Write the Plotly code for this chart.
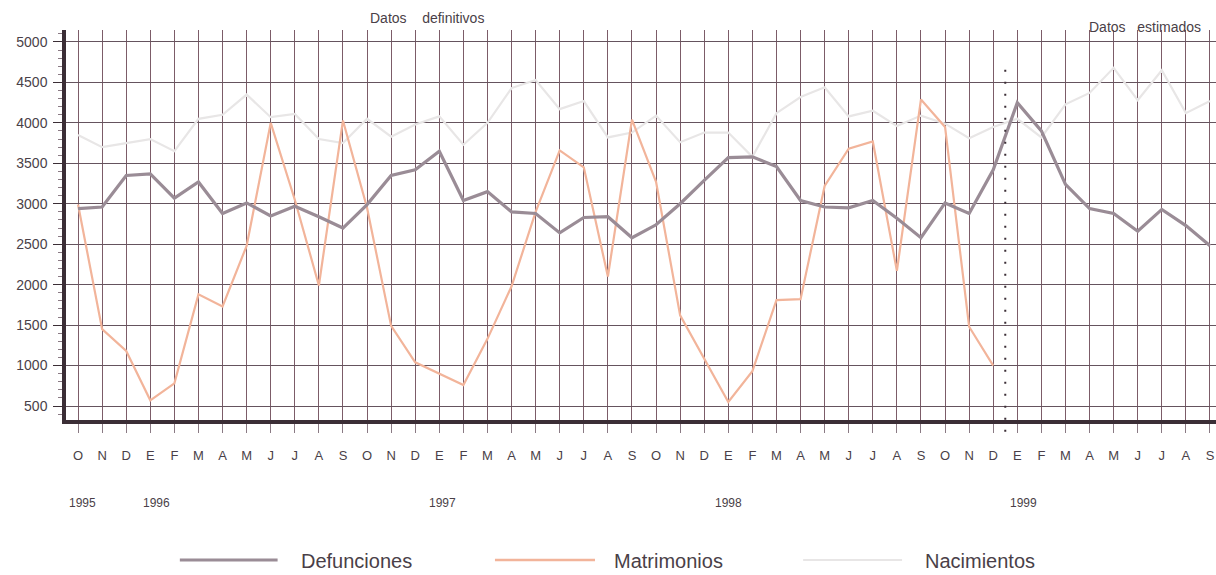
import plotly.graph_objects as go

FONT = "Liberation Sans, Arial, sans-serif"
TEXT = "#4a3f48"
AXIS = "#3b2e36"
GRID_V = "#7c5c68"
GRID_H = "#65545e"
C_DEF = "#9a8c96"
C_MAT = "#f2b49a"
C_NAC = "#e8e6e6"

months = ["O", "N", "D",
          "E", "F", "M", "A", "M", "J", "J", "A", "S", "O", "N", "D",
          "E", "F", "M", "A", "M", "J", "J", "A", "S", "O", "N", "D",
          "E", "F", "M", "A", "M", "J", "J", "A", "S", "O", "N", "D",
          "E", "F", "M", "A", "M", "J", "J", "A", "S"]
years = ["1995", "1996", "1997", "1998", "1999"]
year_pos = [0.2, 3.25, 15.15, 27.0, 39.25]

defunciones = [2940, 2960, 3350,
               3370, 3070, 3270, 2880, 3010, 2850, 2970, 2840, 2700, 2990, 3350, 3420,
               3650, 3040, 3150, 2900, 2880, 2640, 2830, 2840, 2580, 2740, 3000, 3290,
               3570, 3580, 3460, 3040, 2960, 2950, 3040, 2820, 2580, 3010, 2880, 3420,
               4250, 3900, 3240, 2940, 2880, 2660, 2930, 2730, 2480]
matrimonios = [2990, 1450, 1180,
               570, 780, 1880, 1730, 2480, 4000, 3050, 1990, 4030, 2950, 1490, 1040,
               900, 760, 1330, 1980, 2900, 3660, 3450, 2100, 4040, 3270, 1620, 1080,
               550, 930, 1810, 1820, 3220, 3680, 3770, 2170, 4290, 3950, 1480, 1000]
nacimientos = [3850, 3700, 3750,
               3800, 3650, 4050, 4100, 4350, 4070, 4110, 3800, 3750, 4050, 3830, 3980,
               4080, 3730, 4000, 4430, 4530, 4170, 4270, 3820, 3880, 4090, 3760, 3880,
               3880, 3580, 4120, 4320, 4440, 4080, 4150, 3960, 4090, 3990, 3810, 3950,
               4050, 3820, 4230, 4370, 4680, 4280, 4650, 4120, 4270]

x_all = list(range(len(months)))

fig = go.Figure()
fig.add_trace(go.Scatter(x=x_all, y=nacimientos, mode="lines",
                         line=dict(color=C_NAC, width=2.2), name="Nacimientos"))
fig.add_trace(go.Scatter(x=x_all[:len(matrimonios)], y=matrimonios, mode="lines",
                         line=dict(color=C_MAT, width=2.2), name="Matrimonios"))
fig.add_trace(go.Scatter(x=x_all, y=defunciones, mode="lines",
                         line=dict(color=C_DEF, width=3.2), name="Defunciones"))

# frontier between definitive and estimated data
fig.add_shape(type="line", xref="x", yref="paper", x0=38.5, x1=38.5, y0=-0.03, y1=0.92,
              line=dict(color=AXIS, width=2, dash="2px,10px"))

fig.add_annotation(x=14.5, xref="x", y=1.031, yref="paper", yanchor="middle",
                   text="Datos&nbsp;&nbsp;&nbsp; definitivos",
                   showarrow=False, font=dict(size=14, color=TEXT, family=FONT))
fig.add_annotation(x=44.3, xref="x", y=1.008, yref="paper", yanchor="middle",
                   text="Datos&nbsp;&nbsp; estimados",
                   showarrow=False, font=dict(size=14, color=TEXT, family=FONT))

for yr, pos in zip(years, year_pos):
    fig.add_annotation(x=pos, xref="x", y=-0.213, yref="paper", yanchor="middle",
                       text=yr, showarrow=False,
                       font=dict(size=12, color=TEXT, family=FONT))

# legend drawn by hand, like the printed one
legend = [("Defunciones", C_DEF, 3, 0.099, 0.184, 0.203),
          ("Matrimonios", C_MAT, 2.5, 0.373, 0.46, 0.475),
          ("Nacimientos", C_NAC, 2, 0.641, 0.727, 0.745)]
for name, col, w, a, b, t in legend:
    fig.add_shape(type="line", xref="paper", yref="paper", x0=a, x1=b, y0=-0.359, y1=-0.359,
                  line=dict(color=col, width=w))
    fig.add_annotation(x=t, xref="paper", y=-0.3615, yref="paper", text=name, showarrow=False,
                       xanchor="left", yanchor="middle",
                       font=dict(size=20, color=TEXT, family=FONT))

fig.update_layout(
    width=1216, height=575,
    margin=dict(l=66, r=0, t=30, b=155),
    plot_bgcolor="white", paper_bgcolor="white",
    showlegend=False,
    font=dict(family=FONT, color=TEXT),
)
fig.update_xaxes(
    range=[-0.5, 47.25], tickvals=x_all, ticktext=months, automargin=False,
    ticks="outside", ticklen=9, tickcolor="#8a7a84", tickwidth=1,
    ticklabelstandoff=12, tickfont=dict(size=13, color=TEXT),
    showgrid=True, gridcolor=GRID_V, gridwidth=1,
    showline=True, linecolor=AXIS, linewidth=3.5, zeroline=False,
)
fig.update_yaxes(
    range=[327, 5148], tickvals=list(range(500, 5001, 500)), automargin=False,
    ticks="outside", ticklen=9, tickcolor=AXIS, tickwidth=1,
    minor=dict(dtick=100, ticks="outside", ticklen=4, tickcolor="#8a7a84", showgrid=False),
    tickfont=dict(size=14, color=TEXT), ticklabelstandoff=3,
    showgrid=True, gridcolor=GRID_H, gridwidth=1,
    showline=True, linecolor=AXIS, linewidth=3.5, zeroline=False,
)

fig.write_html("out.html", config={"displayModeBar": False},
               post_script="document.body.style.margin='0';")
